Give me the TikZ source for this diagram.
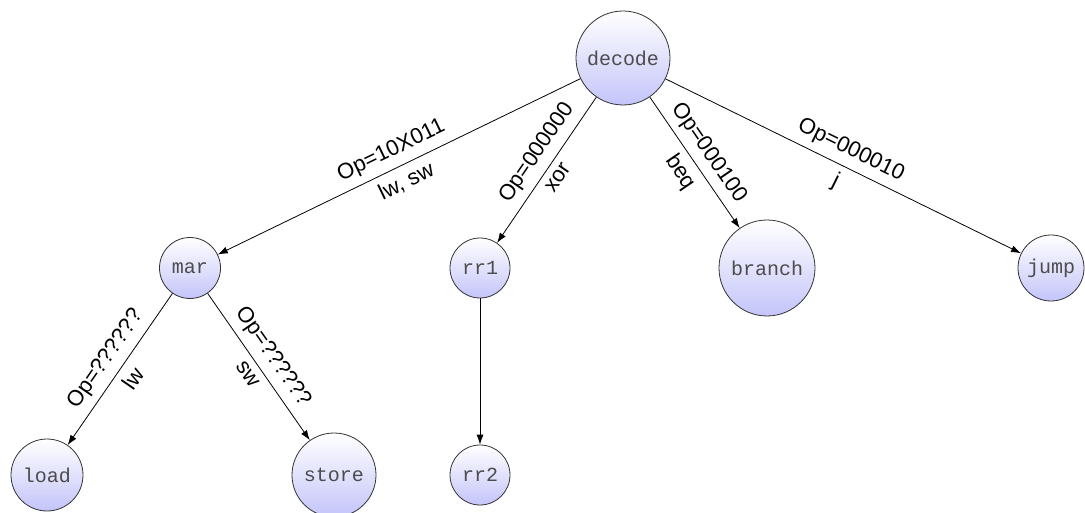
\documentclass[tikz,border=0pt]{standalone}
\usepackage{fontspec}
\setmainfont{Liberation Sans}
\newfontfamily\monof{Liberation Mono}
\usetikzlibrary{arrows.meta}
\begin{document}
\begin{tikzpicture}[x=1pt,y=-1pt,
  st/.style={circle,draw=black!80,line width=0.8pt,top color=white,
    bottom color={rgb,255:red,196;green,196;blue,250},
    font=\monof\fontsize{20}{24}\selectfont,inner sep=0pt,text=black!70},
  edge/.style={-{Latex[length=10pt,width=7pt]},line width=0.8pt},
  lab/.style={sloped,font=\fontsize{22}{26}\selectfont,inner sep=3pt},
  labup/.style={lab,above=4pt},
  labdn/.style={lab,below=4pt}]
\useasboundingbox (0,0) rectangle (1085,513);
\node[st,minimum size=94pt] (decode) at (623,58) {decode};
\node[st,minimum size=61pt] (mar) at (190,268) {mar};
\node[st,minimum size=60pt] (rr1) at (480,268) {rr1};
\node[st,minimum size=96pt] (branch) at (767,268) {branch};
\node[st,minimum size=66pt] (jump) at (1051,268) {jump};
\node[st,minimum size=72pt] (load) at (47,475) {load};
\node[st,minimum size=84pt] (store) at (334,475) {store};
\node[st,minimum size=60pt] (rr2) at (480,475) {rr2};
\draw[edge] (decode) -- node[labup]{Op=10X011} node[labdn]{lw, sw} (mar);
\draw[edge] (decode) -- node[labup,pos=0.45]{Op=000000} node[labdn]{xor} (rr1);
\draw[edge] (decode) -- node[labup]{Op=000100} node[labdn]{beq} (branch);
\draw[edge] (decode) -- node[labup]{Op=000010} node[labdn]{j} (jump);
\draw[edge] (mar) -- node[labup]{Op=??????} node[labdn]{lw} (load);
\draw[edge] (mar) -- node[labup]{Op=??????} node[labdn]{sw} (store);
\draw[edge] (rr1) -- (rr2);
\end{tikzpicture}
\end{document}
